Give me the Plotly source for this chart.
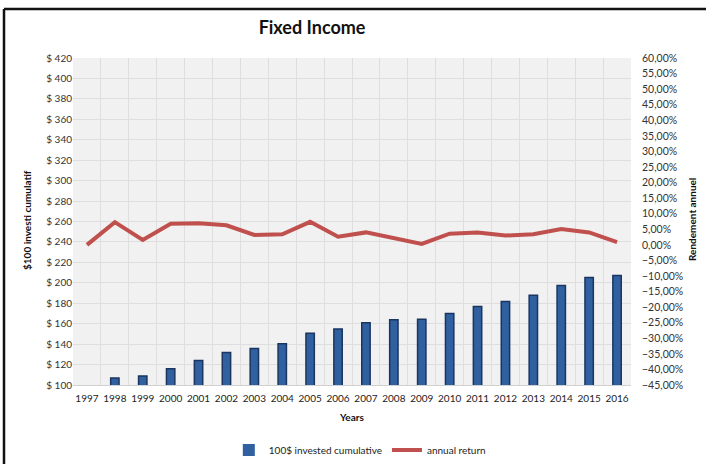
import plotly.graph_objects as go

years = list(range(1997, 2017))
cumulative = [100, 106.8, 108.8, 115.8, 123.9, 131.7, 135.6, 140.4, 150.6, 154.8,
              161.0, 163.9, 164.4, 169.9, 176.7, 181.6, 187.9, 197.3, 205.1, 207.1]
annual_return = [0.0, 7.3, 1.6, 6.8, 6.9, 6.3, 3.2, 3.4, 7.4, 2.6,
                 4.0, 2.0, 0.3, 3.6, 4.0, 3.0, 3.4, 5.1, 4.0, 0.9]

FONT = "Lato"
fig = go.Figure()
fig.add_trace(go.Bar(
    x=years, y=cumulative, name="100$ invested cumulative",
    width=0.3, base=0,
    marker=dict(color="#30609f",
                line=dict(color="#1a3560", width=[0 if v <= 100 else 1.5 for v in cumulative])),
    yaxis="y",
))
fig.add_trace(go.Scatter(
    x=years, y=annual_return, name="annual return", mode="lines",
    line=dict(color="#c0504d", width=4),
    yaxis="y2",
))

fig.update_layout(
    width=706, height=464,
    margin=dict(l=73, r=75, t=58, b=79, autoexpand=False),
    paper_bgcolor="white", plot_bgcolor="#f1f1f1",
    separators=", ",
    font=dict(family=FONT, size=10, color="#333333"),
    title=dict(text="<b>Fixed Income</b>", x=0.442, xanchor="center", y=0.94, yanchor="middle",
               font=dict(family=FONT, size=18, color="#111111")),
    showlegend=True,
    legend=dict(orientation="h", x=0.514, xanchor="center", y=-0.199, yanchor="middle",
                font=dict(family=FONT, size=10, color="#222222"), bgcolor="rgba(0,0,0,0)"),
    bargap=0.7,
    xaxis=dict(range=[1996.5, 2016.5], tickvals=years, ticktext=[str(y) for y in years],
               showgrid=False, zeroline=False, showline=True, linecolor="#d0d0d0",
               ticks="", tickfont=dict(size=10, color="#222222"), automargin=False,
               ticklabelstandoff=4,
               minor=dict(tick0=1996.5, dtick=1, showgrid=True, gridcolor="#dedede", gridwidth=1)),
    yaxis=dict(range=[100, 420], dtick=20, tickprefix="$ ", showgrid=True, gridcolor="#dedede",
               zeroline=False, ticks="", tickfont=dict(size=10, color="#333333"), showline=False,
               automargin=False),
    yaxis2=dict(range=[-45, 60], dtick=5, tickformat=".2f", ticksuffix="%", overlaying="y",
                side="right", showgrid=False, zeroline=False, ticks="", automargin=False,
                ticklabelstandoff=10,
                tickfont=dict(size=10.5, color="#333333")),
)

fig.add_annotation(text="<b>$100 investi cumulatif</b>", xref="paper", yref="paper",
                   x=(27 - 73) / 558, y=(385 - 220) / 327, textangle=-90, showarrow=False,
                   xanchor="center", yanchor="middle",
                   font=dict(family=FONT, size=10, color="#111111"))
fig.add_annotation(text="<b>Rendement annuel</b>", xref="paper", yref="paper",
                   x=(692 - 73) / 558, y=(385 - 220) / 327, textangle=-90, showarrow=False,
                   xanchor="center", yanchor="middle",
                   font=dict(family=FONT, size=10, color="#111111"))
fig.add_annotation(text="<b>Years</b>", xref="paper", yref="paper",
                   x=(351 - 73) / 558, y=(385 - 417) / 327, showarrow=False,
                   xanchor="center", yanchor="middle",
                   font=dict(family=FONT, size=10, color="#111111"))

# outer chart frame (top and left edges)
fig.add_shape(type="line", xref="paper", yref="paper", x0=(4 - 73) / 558, x1=(706 - 73) / 558,
              y0=(385 - 9) / 327, y1=(385 - 9) / 327, line=dict(color="#111111", width=2.5))
fig.add_shape(type="line", xref="paper", yref="paper", x0=(4 - 73) / 558, x1=(4 - 73) / 558,
              y0=(385 - 9) / 327, y1=(385 - 470) / 327, line=dict(color="#111111", width=2.5))

fig.write_html("out.html", config={"displayModeBar": False},
               post_script="document.body.style.margin='0';document.body.style.overflow='hidden';")
